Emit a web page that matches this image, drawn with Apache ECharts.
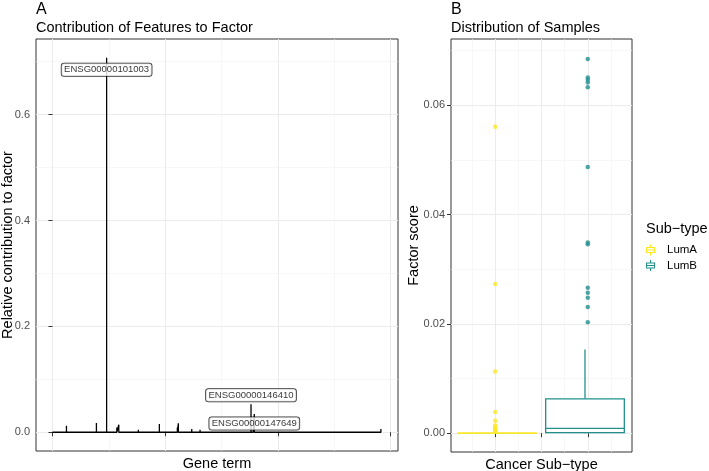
<!DOCTYPE html>
<html><head><meta charset="utf-8">
<script src="https://cdn.jsdelivr.net/npm/echarts@6/dist/echarts.min.js"></script>
<style>html,body{margin:0;padding:0;background:#fff}#c{width:709px;height:471px}</style>
</head><body><div id="c"></div>
<script>
// ---------- Panel A data ----------
const geneCount = 14600;
const spikeGene  = [621, 1552, 1950, 2403, 2633, 2855, 2943, 3489, 3812, 4743, 5541, 5586, 6180, 6548, 8809, 8910, 8955, 9429, 12577, 12829, 14571];
const spikeValue = [0.0124, 0.003, 0.0175, 0.7075, 0.003, 0.009, 0.0143, 0.002, 0.005, 0.0157, 0.009, 0.017, 0.006, 0.005, 0.053, 0.006, 0.0344, 0.002, 0.003, 0.002, 0.006];
const labelNames = ['ENSG00000101003', 'ENSG00000146410', 'ENSG00000147649'];
const labelGene  = [2403, 8809, 8955];
const labelValue = [0.7075, 0.053, 0.0344];
const xTicksA = [0, 5000, 10000, 15000];
const yTicksA = [0, 0.2, 0.4, 0.6];

// ---------- Panel B data ----------
const subtypes = ['LumA', 'LumB'];
const boxX = [1.02, 1.97];
const pointX = [1, 2];
// [lower whisker, Q1, median, Q3, upper whisker]
const boxLumA = [0, 0, 0, 0, 0];
const boxLumB = [0, 0.0001, 0.0009, 0.0063, 0.0153];
const outliersLumA = [0.0561, 0.0273, 0.0113, 0.0039, 0.0023, 0.0014, 0.0011, 0.0008, 0.0005, 0.0003];
const outliersLumB = [0.0685, 0.0651, 0.0647, 0.0642, 0.0633, 0.0487, 0.0349, 0.0346, 0.0266, 0.0257, 0.0248, 0.0231, 0.0203];
const xTicksB = [1, 1.5, 2];
const yTicksB = [0, 0.02, 0.04, 0.06];

// build line through genes (baseline with spikes)
const linePts = [[0, 0]];
spikeGene.forEach((g, i) => { linePts.push([g, 0], [g, spikeValue[i]], [g, 0]); });
linePts.push([geneCount, 0]);

const labelOffsets = [[0, 12], [0, -9], [0, 9.5]];
const labelData = labelNames.map((n, i) => ({ value: [labelGene[i], labelValue[i], n], label: { offset: labelOffsets[i] } }));

const FONT = "'Liberation Sans', Arial, Helvetica, sans-serif";
const gridLine = { lineStyle: { color: '#EBEBEB', width: 1 } };
const minorLine = { show: true, lineStyle: { color: '#F2F2F2', width: 0.6 } };
const tick = (vals) => ({ show: true, length: 4, lineStyle: { color: '#333', width: 1 }, customValues: vals });

function renderBox(params, api) {
  const x = api.value(0);
  const lo = api.coord([x, api.value(1)]);
  const q1 = api.coord([x, api.value(2)]);
  const med = api.coord([x, api.value(3)]);
  const q3 = api.coord([x, api.value(4)]);
  const hi = api.coord([x, api.value(5)]);
  const half = api.size([0.85, 0])[0] / 2;
  const color = api.visual('color');
  return { type: 'group', children: [
    { type: 'line', shape: { x1: hi[0], y1: hi[1], x2: q3[0], y2: q3[1] }, style: { stroke: color, lineWidth: 1.3 } },
    { type: 'line', shape: { x1: lo[0], y1: lo[1], x2: q1[0], y2: q1[1] }, style: { stroke: color, lineWidth: 1.3 } },
    { type: 'rect', shape: { x: q3[0] - half, y: q3[1], width: 2 * half, height: Math.max(q1[1] - q3[1], 0.01) }, style: { stroke: color, fill: '#fff', lineWidth: 1.3 } },
    { type: 'line', shape: { x1: med[0] - half, y1: med[1], x2: med[0] + half, y2: med[1] }, style: { stroke: color, lineWidth: 1.3 } }
  ]};
}

const boxIcon = 'path://M8,0H10V5H8Z M0,5H18V7H0Z M0,15H18V17H0Z M0,5H2V17H0Z M16,5H18V17H16Z M0,10H18V12H0Z M8,17H10V22H8Z';

const chart = echarts.init(document.getElementById('c'), null, { renderer: 'canvas' });
chart.setOption({
  animation: false,
  backgroundColor: '#fff',
  textStyle: { fontFamily: FONT },
  title: [
    { text: 'A', left: 36, top: 2, padding: 0, textStyle: { fontSize: 16, fontWeight: 'normal', color: '#000', fontFamily: FONT } },
    { text: 'Contribution of Features to Factor', left: 36, top: 20, padding: 0, textStyle: { fontSize: 14.5, fontWeight: 'normal', color: '#000', fontFamily: FONT } },
    { text: 'B', left: 451, top: 2, padding: 0, textStyle: { fontSize: 16, fontWeight: 'normal', color: '#000', fontFamily: FONT } },
    { text: 'Distribution of Samples', left: 451, top: 20, padding: 0, textStyle: { fontSize: 14.5, fontWeight: 'normal', color: '#000', fontFamily: FONT } },
    { text: 'Sub\u2212type', left: 646, top: 221, padding: 0, textStyle: { fontSize: 14.5, fontWeight: 'normal', color: '#000', fontFamily: FONT } }
  ],
  legend: {
    left: 646, top: 244, orient: 'vertical', padding: 0, itemWidth: 9, itemHeight: 11, itemGap: 3.5,
    icon: boxIcon, selectedMode: false,
    textStyle: { fontSize: 11.5, color: '#000', fontFamily: FONT, padding: [0, 0, 0, 7] },
    data: [
      { name: subtypes[0], itemStyle: { color: '#FDE725' } },
      { name: subtypes[1], itemStyle: { color: '#21908C' } }
    ]
  },
  grid: [
    { left: 36, top: 39, width: 362, height: 412, show: true, borderColor: '#333', borderWidth: 1, backgroundColor: '#fff', outerBoundsMode: 'none', containLabel: false },
    { left: 451, top: 39, width: 181, height: 413, show: true, borderColor: '#333', borderWidth: 1, backgroundColor: '#fff', outerBoundsMode: 'none', containLabel: false }
  ],
  xAxis: [
    { type: 'value', gridIndex: 0, min: -730, max: 15330, splitNumber: 4,
      axisLine: { show: false }, axisTick: tick(xTicksA), axisLabel: { show: false, customValues: xTicksA },
      splitLine: gridLine, minorTick: { show: false, splitNumber: 2 }, minorSplitLine: minorLine,
      name: 'Gene term', nameLocation: 'middle', nameGap: 5, nameMoveOverlap: false,
      nameTextStyle: { fontSize: 14.5, color: '#000', fontFamily: FONT, verticalAlign: 'top' } },
    { type: 'value', gridIndex: 1, min: 0.522, max: 2.478, splitNumber: 4,
      axisLine: { show: false }, axisTick: tick(xTicksB), axisLabel: { show: false, customValues: xTicksB },
      splitLine: gridLine, minorTick: { show: false, splitNumber: 2 }, minorSplitLine: minorLine,
      name: 'Cancer Sub\u2212type', nameLocation: 'middle', nameGap: 5, nameMoveOverlap: false,
      nameTextStyle: { fontSize: 14.5, color: '#000', fontFamily: FONT, verticalAlign: 'top' } }
  ],
  yAxis: [
    { type: 'value', gridIndex: 0, min: -0.035375, max: 0.742875, splitNumber: 4,
      axisLine: { show: false }, axisTick: tick(yTicksA),
      axisLabel: { customValues: yTicksA, formatter: v => v.toFixed(1), color: '#4D4D4D', fontSize: 11, margin: 6, fontFamily: FONT },
      splitLine: gridLine, minorTick: { show: false, splitNumber: 2 }, minorSplitLine: minorLine,
      name: 'Relative contribution to factor', nameLocation: 'middle', nameGap: 21, nameMoveOverlap: false,
      nameTextStyle: { fontSize: 14.5, color: '#000', fontFamily: FONT } },
    { type: 'value', gridIndex: 1, min: -0.00344, max: 0.07214, splitNumber: 4,
      axisLine: { show: false }, axisTick: tick(yTicksB),
      axisLabel: { customValues: yTicksB, formatter: v => v.toFixed(2), color: '#4D4D4D', fontSize: 11, margin: 6, fontFamily: FONT },
      splitLine: gridLine, minorTick: { show: false, splitNumber: 2 }, minorSplitLine: minorLine,
      name: 'Factor score', nameLocation: 'middle', nameGap: 30, nameMoveOverlap: false,
      nameTextStyle: { fontSize: 14.5, color: '#000', fontFamily: FONT } }
  ],
  series: [
    { type: 'line', xAxisIndex: 0, yAxisIndex: 0, data: linePts, symbol: 'none', silent: true,
      lineStyle: { color: '#000', width: 1.3 }, z: 2 },
    { type: 'scatter', xAxisIndex: 0, yAxisIndex: 0, data: labelData, symbolSize: 0, silent: true, z: 5,
      label: { show: true, position: 'inside', formatter: p => p.data.value[2], fontSize: 9.5, color: '#000', fontFamily: FONT,
        backgroundColor: '#fff', borderColor: '#000', borderWidth: 0.8, borderRadius: 2.5, padding: [1.5, 2.5, 1, 2.5] } },
    { type: 'custom', name: subtypes[0], xAxisIndex: 1, yAxisIndex: 1, renderItem: renderBox,
      itemStyle: { color: '#FDE725' }, data: [[boxX[0], ...boxLumA]], z: 2,
      encode: { x: 0, y: [1, 2, 3, 4, 5] } },
    { type: 'custom', name: subtypes[1], xAxisIndex: 1, yAxisIndex: 1, renderItem: renderBox,
      itemStyle: { color: '#21908C' }, data: [[boxX[1], ...boxLumB]], z: 2,
      encode: { x: 0, y: [1, 2, 3, 4, 5] } },
    { type: 'scatter', name: subtypes[0], xAxisIndex: 1, yAxisIndex: 1, symbolSize: 4.5, z: 3,
      itemStyle: { color: '#FDE725' }, data: outliersLumA.map(v => [pointX[0], v]) },
    { type: 'scatter', name: subtypes[1], xAxisIndex: 1, yAxisIndex: 1, symbolSize: 4.5, z: 3,
      itemStyle: { color: '#21908C' }, data: outliersLumB.map(v => [pointX[1], v]) }
  ]
});
</script></body></html>
